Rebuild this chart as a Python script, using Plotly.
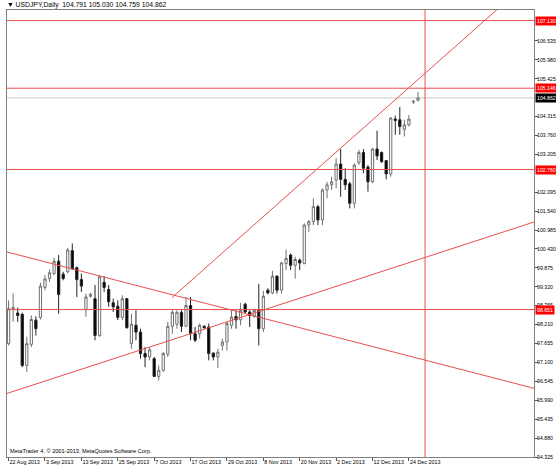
import pandas as pd
import plotly.graph_objects as go

# USDJPY daily bars, 22 Aug 2013 .. 26 Dec 2013
opens = [97.65, 98.67, 98.55, 98.51, 97.01, 97.63, 98.34, 98.42, 99.30, 99.56,
         99.71, 100.07, 99.69, 99.76, 100.38, 99.88, 99.53, 98.65, 99.04, 98.97,
         97.89, 99.45, 99.24, 98.85, 98.75, 98.42, 98.97, 97.65, 98.19, 97.99,
         97.36, 97.26, 97.21, 96.69, 96.87, 97.34, 98.16, 98.22, 98.57, 98.16,
         98.77, 97.94, 97.94, 98.16, 98.14, 97.37, 97.26, 97.60, 97.70, 98.19,
         98.45, 98.35, 98.81, 98.58, 98.45, 98.63, 98.09, 99.22, 99.14, 99.63,
         99.22, 100.00, 100.25, 99.95, 100.10, 100.00, 101.13, 101.23, 101.67, 101.28,
         102.16, 102.31, 102.45, 102.92, 102.47, 102.34, 101.77, 102.96, 103.26, 102.83,
         102.40, 103.36, 103.26, 103.02, 102.63, 104.24, 104.22, 103.94, 104.07, 104.74,
         104.791]
highs = [98.92, 99.12, 98.71, 98.56, 97.85, 98.48, 98.45, 99.44, 99.66, 99.83,
         100.17, 100.25, 99.76, 100.46, 100.59, 99.91, 99.71, 99.12, 99.14, 99.37,
         99.66, 99.63, 99.37, 98.97, 98.92, 99.07, 98.99, 98.53, 98.63, 98.09,
         97.55, 97.55, 97.26, 97.01, 97.41, 98.29, 98.63, 98.63, 98.63, 99.02,
         99.02, 98.14, 98.24, 98.19, 98.24, 97.40, 97.50, 97.80, 98.29, 98.63,
         98.63, 98.85, 98.85, 98.63, 98.65, 99.40, 99.20, 99.27, 99.79, 99.66,
         100.05, 100.41, 100.30, 100.20, 100.15, 101.18, 101.28, 101.91, 101.72, 102.21,
         102.40, 102.55, 103.09, 103.36, 102.80, 102.40, 102.94, 103.34, 103.36, 102.89,
         103.39, 103.90, 103.29, 103.04, 104.30, 104.34, 104.59, 104.22, 104.36, 104.80,
         105.030]
lows = [97.60, 98.29, 98.29, 96.96, 96.82, 97.55, 97.89, 98.36, 99.22, 99.46,
        99.66, 98.53, 99.51, 99.71, 99.81, 99.02, 99.17, 98.44, 99.00, 97.75,
        97.85, 99.17, 98.73, 98.58, 98.34, 98.34, 98.09, 97.50, 97.75, 97.21,
        96.96, 97.16, 96.67, 96.57, 96.82, 97.26, 97.94, 98.09, 97.99, 98.14,
        97.75, 97.70, 97.80, 98.09, 97.16, 97.16, 96.94, 97.45, 97.45, 98.09,
        98.09, 98.19, 98.53, 98.14, 98.41, 97.60, 97.99, 99.10, 99.10, 99.12,
        99.12, 99.81, 99.81, 99.56, 99.81, 99.98, 100.93, 101.13, 101.13, 101.13,
        101.91, 102.16, 102.21, 101.96, 102.16, 101.62, 101.62, 102.89, 102.65, 102.11,
        102.36, 103.04, 102.96, 102.47, 102.55, 103.78, 103.78, 103.73, 104.02, 104.68,
        104.759]
closes = [98.68, 98.71, 98.48, 97.01, 97.65, 98.36, 98.09, 99.34, 99.55, 99.73,
          100.07, 99.09, 99.56, 100.40, 99.84, 99.53, 99.34, 99.02, 99.10, 97.89,
          99.61, 99.30, 98.88, 98.73, 98.42, 98.97, 98.12, 98.22, 97.99, 97.36,
          97.26, 97.47, 96.69, 96.87, 97.36, 98.16, 98.57, 98.57, 98.16, 98.77,
          97.94, 97.75, 98.19, 98.12, 97.36, 97.26, 97.40, 97.70, 98.24, 98.43,
          98.35, 98.63, 98.58, 98.48, 98.63, 98.09, 99.04, 99.14, 99.63, 99.22,
          100.02, 100.15, 99.95, 100.12, 100.02, 101.13, 101.23, 101.67, 101.28, 102.16,
          102.31, 102.40, 102.92, 102.47, 102.31, 101.77, 102.89, 103.26, 102.80, 102.40,
          103.36, 103.16, 102.99, 102.63, 104.27, 104.20, 104.02, 104.07, 104.24, 104.76,
          104.862]

dates = pd.bdate_range("2013-08-22", periods=len(opens))
bars = list(range(len(opens)))

# price scale labels (the ones hidden under the level boxes are left out)
price_ticks = [94.325, 94.880, 95.435, 95.990, 96.545, 97.100, 97.655, 98.210,
               98.765, 99.320, 99.875, 100.430, 100.985, 101.540, 102.095,
               103.205, 103.760, 104.315, 105.425, 105.980, 106.535]

# drawn objects: horizontal levels, vertical line, trend lines (bar index, price)
levels = [107.130, 105.146, 102.760, 98.651]
bid_level = 104.862
vline_bar = 91.55
trend_lines = [
    [(-0.35, 100.34), (115.5, 96.34)],
    [(-0.35, 96.19), (115.5, 101.22)],
    [(35.9, 99.00), (112.0, 108.00)],
]

RED = "rgb(234,78,78)"
FONT = "Liberation Sans"
SMALL = 5.2

fig = go.Figure()
fig.add_trace(go.Candlestick(
    x=bars, open=opens, high=highs, low=lows, close=closes,
    increasing=dict(line=dict(color="#707070", width=1), fillcolor="white"),
    decreasing=dict(line=dict(color="#222222", width=1), fillcolor="black"),
    showlegend=False, hoverinfo="skip"
))

shapes = []
for lv in levels:
    shapes.append(dict(type="line", xref="paper", x0=0, x1=1, yref="y", y0=lv, y1=lv,
                       line=dict(color=RED, width=1)))
shapes.append(dict(type="line", xref="paper", x0=0, x1=1, yref="y", y0=bid_level, y1=bid_level,
                   line=dict(color="#c8c8c8", width=1), layer="below"))
shapes.append(dict(type="line", xref="x", x0=vline_bar, x1=vline_bar, yref="paper", y0=0, y1=1,
                   line=dict(color=RED, width=1)))
for (xa, ya), (xb, yb) in trend_lines:
    shapes.append(dict(type="line", xref="x", x0=xa, x1=xb, yref="y", y0=ya, y1=yb,
                       line=dict(color=RED, width=1)))

annotations = []
for lv in levels:
    annotations.append(dict(xref="paper", x=1, xanchor="left", xshift=1, yref="y", y=lv,
                            text=f"{lv:.3f}", showarrow=False, bgcolor="#ff0000",
                            font=dict(family=FONT, size=SMALL, color="white"), borderpad=1))
annotations.append(dict(xref="paper", x=1, xanchor="left", xshift=1, yref="y", y=bid_level,
                        text=f"{bid_level:.3f}", showarrow=False, bgcolor="black",
                        font=dict(family=FONT, size=SMALL, color="white"), borderpad=1))
annotations.append(dict(xref="paper", x=0, xanchor="left", xshift=-2, yref="paper", y=1,
                        yanchor="middle", yshift=5, showarrow=False,
                        text="▼ USDJPY,Daily  %.3f %.3f %.3f %.3f" % (opens[-1], highs[-1], lows[-1], closes[-1]),
                        font=dict(family=FONT, size=6.8, color="black")))
annotations.append(dict(xref="paper", x=0, xanchor="left", xshift=1, yref="paper", y=0,
                        yanchor="bottom", yshift=1, showarrow=False,
                        text="MetaTrader 4, © 2001-2013, MetaQuotes Software Corp.",
                        font=dict(family=FONT, size=5.6, color="black")))

fig.update_layout(
    width=556, height=468,
    margin=dict(l=7, r=22, t=10, b=11, pad=0),
    paper_bgcolor="white", plot_bgcolor="white",
    shapes=shapes, annotations=annotations,
    font=dict(family=FONT, size=5.4, color="black"),
    xaxis=dict(range=[-0.35, 115.5], rangeslider=dict(visible=False), automargin=False,
               showgrid=False, zeroline=False, showline=True, linecolor="#808080", mirror=True,
               ticks="outside", ticklen=3, tickcolor="#555555", tickangle=0,
               tickvals=bars[::8], ticktext=[d.strftime("%-d %b %Y") for d in dates[::8]],
               ticklabelposition="outside right"),
    yaxis=dict(side="right", range=[94.325, 107.44], automargin=False,
               showgrid=False, zeroline=False,
               showline=True, linecolor="#808080", mirror=True,
               ticks="outside", ticklen=3, tickcolor="#555555", ticklabelstandoff=-2,
               tickvals=price_ticks, tickformat=".3f", tickfont=dict(size=SMALL)),
)

fig.write_html("out.html", config={"displayModeBar": False},
               post_script="document.body.style.margin='0';")
